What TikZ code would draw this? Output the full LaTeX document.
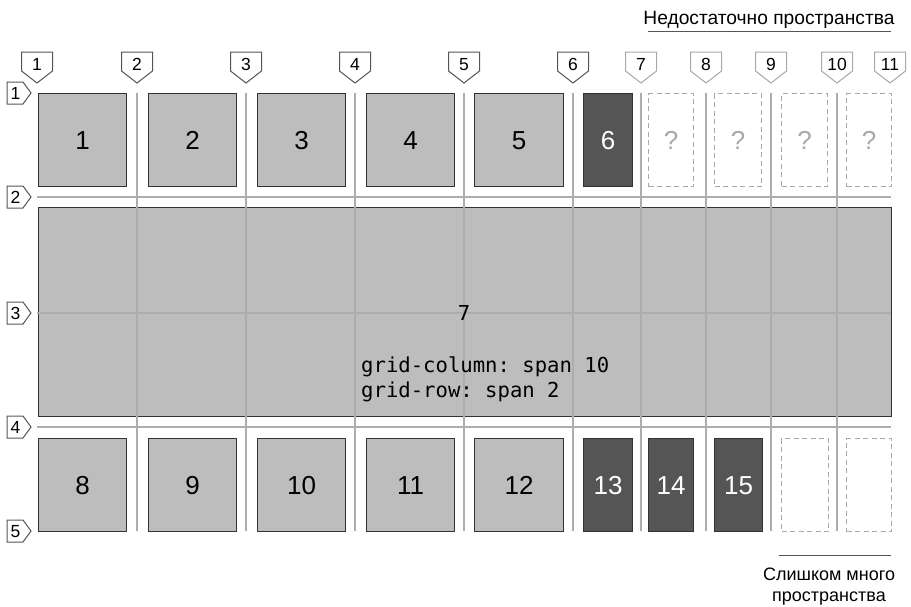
\documentclass[tikz,border=0pt]{standalone}
\usepackage{fontspec}
\setmainfont{Liberation Sans}
\setmonofont{DejaVu Sans Mono}
\definecolor{boxgray}{HTML}{BDBDBD}
\definecolor{darkfill}{HTML}{555555}
\definecolor{edgec}{HTML}{333333}
\definecolor{gridc}{HTML}{ADADAD}
\definecolor{markdark}{HTML}{555555}
\definecolor{marklight}{HTML}{A8A8A8}
\begin{document}
\begin{tikzpicture}[x=1pt,y=-1pt,
  lightbox/.style={draw=edgec, fill=boxgray, line width=1.3pt, anchor=north west, inner sep=0pt,
    font=\fontsize{26}{30}\selectfont, text height=18.6pt, text depth=0pt},
  darkbox/.style={lightbox, fill=darkfill, text=white},
  ghostbox/.style={draw=marklight, dash pattern=on 5pt off 3.5pt, line width=1.2pt, anchor=north west,
    inner sep=0pt, text=marklight, font=\fontsize{26}{30}\selectfont, text height=18.6pt, text depth=0pt},
  gridl/.style={draw=gridc, line width=1.4pt},
  marktext/.style={font=\fontsize{17.5}{20}\selectfont, inner sep=0pt, text height=12.5pt, text depth=0pt},
  monotext/.style={font=\ttfamily\fontsize{20.6}{25}\selectfont, inner sep=0pt, anchor=base west},
  labeltext/.style={font=\fontsize{18}{21}\selectfont, inner sep=0pt, align=center},
  rulel/.style={draw=markdark, line width=0.9pt}
]
\useasboundingbox (0,0) rectangle (911,606);

% big spanning box
\node[lightbox, minimum width=853pt, minimum height=209pt] (b7) at (38,207) {};

% grid lines
\foreach \x in {137,246,355,464,573,641,706,771,837}
  \draw[gridl] (\x,93) -- (\x,531);
\foreach \y in {197,313,427}
  \draw[gridl] (37,\y) -- (891,\y);

% big box text
\node[font=\ttfamily\fontsize{20.6}{25}\selectfont, inner sep=0pt, anchor=base] (t7) at (464,320) {7};
\node[monotext] (tcol) at (361,372) {grid-column: span 10};
\node[monotext] (trow) at (361,397) {grid-row: span 2};

% top row
\node[lightbox, minimum width=88pt, minimum height=93pt] (b1) at (38,93) {1};
\node[lightbox, minimum width=88pt, minimum height=93pt] (b2) at (148,93) {2};
\node[lightbox, minimum width=88pt, minimum height=93pt] (b3) at (257,93) {3};
\node[lightbox, minimum width=88pt, minimum height=93pt] (b4) at (366,93) {4};
\node[lightbox, minimum width=89pt, minimum height=93pt] (b5) at (474,93) {5};
\node[darkbox, minimum width=49pt, minimum height=93pt] (b6) at (583,93) {6};
\node[ghostbox, minimum width=45pt, minimum height=93pt] (q1) at (648,93) {?};
\node[ghostbox, minimum width=47pt, minimum height=93pt] (q2) at (714,93) {?};
\node[ghostbox, minimum width=46pt, minimum height=93pt] (q3) at (781,93) {?};
\node[ghostbox, minimum width=45pt, minimum height=93pt] (q4) at (846,93) {?};

% bottom row
\node[lightbox, minimum width=88pt, minimum height=93pt] (b8) at (38,438) {8};
\node[lightbox, minimum width=88pt, minimum height=93pt] (b9) at (148,438) {9};
\node[lightbox, minimum width=88pt, minimum height=93pt] (b10) at (257,438) {10};
\node[lightbox, minimum width=88pt, minimum height=93pt] (b11) at (366,438) {11};
\node[lightbox, minimum width=89pt, minimum height=93pt] (b12) at (474,438) {12};
\node[darkbox, minimum width=49pt, minimum height=93pt] (b13) at (583,438) {13};
\node[darkbox, minimum width=45pt, minimum height=93pt] (b14) at (648,438) {14};
\node[darkbox, minimum width=48pt, minimum height=93pt] (b15) at (714,438) {15};
\node[ghostbox, minimum width=47pt, minimum height=93pt] (e1) at (781,438) {};
\node[ghostbox, minimum width=45pt, minimum height=93pt] (e2) at (846,438) {};

% column markers
\foreach \x/\n/\c in {37/1/markdark,137/2/markdark,246/3/markdark,355/4/markdark,464/5/markdark,
    573/6/markdark,641/7/marklight,706/8/marklight,771/9/marklight,837/10/marklight,890/11/marklight}{
  \draw[draw=\c, fill=white, line width=1pt, line join=miter]
    (\x-15.5,52) -- (\x+15.5,52) -- (\x+15.5,71) -- (\x,83) -- (\x-15.5,71) -- cycle;
  \node[marktext] (cm\n) at (\x,64.5) {\n};
}

% row markers
\foreach \y/\n in {93/1,197/2,313/3,427/4,531/5}{
  \draw[draw=markdark, fill=white, line width=1pt, line join=miter]
    (7,\y-11) -- (23,\y-11) -- (31,\y) -- (23,\y+11) -- (7,\y+11) -- cycle;
  \node[marktext] (rm\n) at (15.5,\y) {\n};
}

% annotations
\node[labeltext, font=\fontsize{19.2}{22}\selectfont, anchor=base] (top) at (769,24) {Недостаточно пространства};
\coordinate (tl1) at (648,31);
\coordinate (tl2) at (891,31);
\draw[rulel] (tl1) -- (tl2);
\coordinate (bl1) at (779,555);
\coordinate (bl2) at (891,555);
\draw[rulel] (bl1) -- (bl2);
\node[labeltext, anchor=north] (bot) at (829,568) {Слишком много\\пространства};
\end{tikzpicture}
\end{document}
